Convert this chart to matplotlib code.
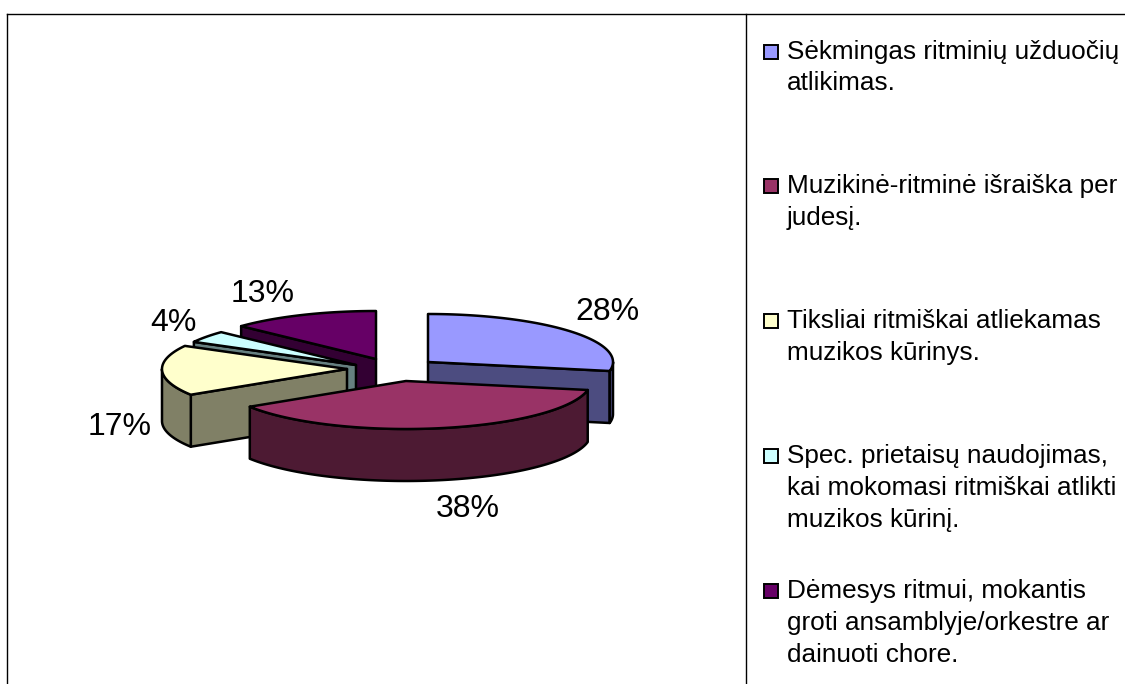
import numpy as np
import matplotlib
matplotlib.use("Agg")
import matplotlib.pyplot as plt
from matplotlib.patches import Polygon

plt.rcParams['font.family'] = ['Liberation Sans', 'DejaVu Sans']

values = [28, 38, 17, 4, 13]
labels = ["Sėkmingas ritminių užduočių\natlikimas.",
          "Muzikinė-ritminė išraiška per\njudesį.",
          "Tiksliai ritmiškai atliekamas\nmuzikos kūrinys.",
          "Spec. prietaisų naudojimas,\nkai mokomasi ritmiškai atlikti\nmuzikos kūrinį.",
          "Dėmesys ritmui, mokantis\ngroti ansamblyje/orkestre ar\ndainuoti chore."]
top_colors = ['#9999FF', '#993366', '#FFFFCC', '#CCFFFF', '#660066']
side_colors = ['#4C4C80', '#4D1A33', '#808066', '#668080', '#330033']

# where each exploded slice ends up, and where its percent label goes
apex = [(428, 362), (406, 381), (347, 369), (356, 365), (376, 359)]
pct_pos = [(607.5, 312), (468, 509), (119.5, 427), (173, 323), (262.5, 294)]
draw_order = [4, 0, 3, 2, 1]

rx = 185
ry = 48
depth = 52

fig = plt.figure(figsize=(11.25, 6.84), dpi=100)
ax = fig.add_axes([0, 0, 1, 1])
ax.set_xlim(0, 1125)
ax.set_ylim(684, 0)
ax.axis('off')


def rim(center, a, b):
    # angles in degrees, clockwise from 12 o'clock
    t = np.radians(np.linspace(a, b, max(2, int(abs(b - a)) + 2)))
    return np.column_stack([center[0] + rx * np.sin(t), center[1] - ry * np.cos(t)])


def poly(pts, color):
    ax.add_patch(Polygon(pts, closed=True, facecolor=color, edgecolor='black',
                         linewidth=1.8, joinstyle='round'))


edges = np.cumsum([0] + values) * 3.6

for i in draw_order:
    a, b = edges[i], edges[i + 1]
    c = np.array(apex[i], dtype=float)
    down = np.array([0, depth])

    # flat cut faces, only the ones turned towards the viewer
    for ang, visible in ((a, np.sin(np.radians(a)) < -1e-6), (b, np.sin(np.radians(b)) > 1e-6)):
        if visible:
            p = rim(c, ang, ang)[0]
            poly([c, p, p + down, c + down], side_colors[i])

    # outer wall, front half of the ellipse
    lo, hi = max(a, 90), min(b, 270)
    if hi > lo:
        arc = rim(c, lo, hi)
        poly(np.vstack([arc, (arc + down)[::-1]]), side_colors[i])

    poly(np.vstack([c, rim(c, a, b)]), top_colors[i])

    ax.text(pct_pos[i][0], pct_pos[i][1], "%d%%" % values[i], fontsize=23,
            ha='center', va='center', color='black')

# frame
ax.plot([7, 7], [684, 14], color='black', lw=1)
ax.plot([7, 1125], [14, 14], color='black', lw=1)
ax.plot([746, 746], [14, 684], color='black', lw=1)

# legend
for i, lab in enumerate(labels):
    y = 51.5 + 134.9 * i
    ax.plot([771], [y], marker='s', ms=9.5, mfc=top_colors[i], mec='black', mew=1.4, ls='none')
    for j, line in enumerate(lab.split("\n")):
        ax.text(787, y + 7 + 32 * j, line, fontsize=18.85, ha='left', va='baseline', color='black')

fig.savefig("out.png", dpi=100)
